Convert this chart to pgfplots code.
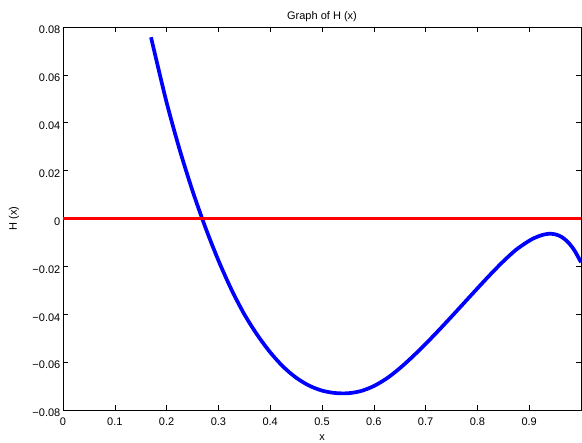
\documentclass[border=0pt]{standalone}
\usepackage{pgfplots}
\pgfplotsset{compat=1.18}
\usepackage{fontspec}
\setmainfont{Liberation Sans}
\begin{document}
\begin{tikzpicture}
\begin{axis}[
  at={(0pt,0pt)}, anchor=south west,
  scale only axis, width=518pt, height=383pt,
  xmin=0, xmax=1, ymin=-0.08, ymax=0.08,
  scaled y ticks=false, scaled x ticks=false,
  xtick={0,0.1,0.2,0.3,0.4,0.5,0.6,0.7,0.8,0.9},
  xticklabels={0,0.1,0.2,0.3,0.4,0.5,0.6,0.7,0.8,0.9},
  ytick={-0.08,-0.06,-0.04,-0.02,0,0.02,0.04,0.06,0.08},
  yticklabels={−0.08,−0.06,−0.04,−0.02,0,0.02,0.04,0.06,0.08},
  tick align=inside, major tick length=5pt,
  tick style={black, line width=0.5pt},
  axis line style={black, line width=0.6pt},
  tick label style={font=\fontsize{11}{13}\selectfont},
  xticklabel style={anchor=north, inner sep=0pt, yshift=-8pt},
  yticklabel style={anchor=east, inner sep=0pt, xshift=-2.5pt, yshift=-3pt},
  every axis title shift=0pt,
  title={Graph of H (x)},
  title style={font=\fontsize{11}{13}\selectfont, at={(axis description cs:0.5,1)}, anchor=base, yshift=7pt, inner sep=0pt},
  xlabel={x},
  xlabel style={font=\fontsize{11}{13}\selectfont, at={(axis description cs:0.5,0)}, anchor=base, yshift=-30.5pt, inner sep=0pt},
  ylabel={H (x)},
  ylabel style={font=\fontsize{11}{13}\selectfont, at={(axis description cs:-0.0946,0.5)}, anchor=center},
]
\addplot[blue, line width=3.7pt, smooth] coordinates {
(0.170,0.0757) (0.175,0.0710) (0.200,0.0485) (0.225,0.0289) (0.250,0.0116)
(0.275,-0.0038) (0.300,-0.0175) (0.325,-0.0296) (0.350,-0.0400) (0.375,-0.0486)
(0.400,-0.0559) (0.425,-0.0619) (0.450,-0.0665) (0.475,-0.0698) (0.500,-0.0719)
(0.525,-0.0729) (0.550,-0.0730) (0.575,-0.0721) (0.600,-0.0700) (0.625,-0.0668)
(0.650,-0.0626) (0.675,-0.0577) (0.700,-0.0524) (0.725,-0.0468) (0.750,-0.0410)
(0.775,-0.0351) (0.800,-0.0292) (0.825,-0.0234) (0.850,-0.0179) (0.875,-0.0130)
(0.900,-0.0093) (0.9125,-0.0079) (0.925,-0.0069) (0.9375,-0.0064) (0.950,-0.0066)
(0.9625,-0.0077) (0.975,-0.0099) (0.9875,-0.0134) (1.000,-0.0183)
};
\addplot[red, line width=3.7pt] coordinates {(0,0) (1,0)};
\end{axis}
\pgfresetboundingbox
\path[use as bounding box] (-63pt,-33pt) rectangle (519pt,410pt);
\end{tikzpicture}
\end{document}
